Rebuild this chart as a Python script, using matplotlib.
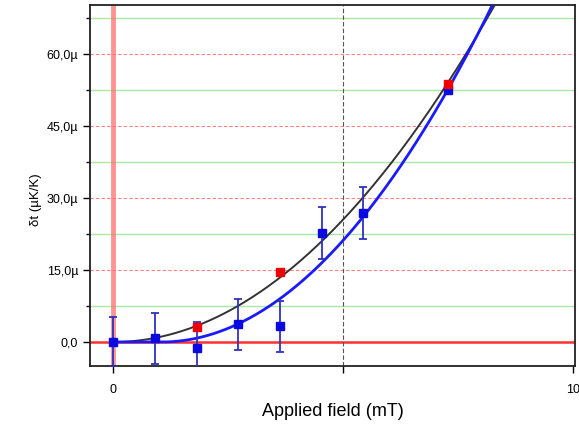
import numpy as np
import matplotlib
matplotlib.use("Agg")
import matplotlib.pyplot as plt

plt.rcParams['font.family'] = ['Liberation Sans', 'DejaVu Sans']

# measured points (field in mT, signal in uK/K)
blue_x = [0.0, 0.91, 1.83, 2.72, 3.63, 4.54, 5.43, 7.28]
blue_y = [0.0, 0.8, -1.2, 3.7, 3.3, 22.7, 26.9, 52.6]
blue_err = [5.3, 5.3, 5.3, 5.3, 5.3, 5.4, 5.5, 0.0]
blue_sigma = [5.3, 5.3, 5.3, 5.3, 5.3, 5.4, 5.5, 1.0]  # weights used in the fit

red_x = [0.0, 1.83, 3.63, 7.28]
red_y = [0.0, 3.1, 14.6, 53.8]

y_ticks = [0, 15, 30, 45, 60]
y_ticklabels = ["0,0", "15,0\u00b5", "30,0\u00b5", "45,0\u00b5", "60,0\u00b5"]
y_minor = [7.5, 22.5, 37.5, 52.5, 67.5]
x_ticks = [0, 5, 10]
x_ticklabels = ["0", "", "10"]

bx, by = np.array(blue_x), np.array(blue_y)
rx, ry = np.array(red_x), np.array(red_y)
w = 1.0 / np.array(blue_sigma)**2

# black fit: y = a*x^2 through the red points
a_red = np.sum(rx**2 * ry) / np.sum(rx**4)

# blue fit: y = a*(x - x0)^2 for x > x0, x0 found by a simple scan
best = None
for x0 in np.linspace(0, 3, 301):
    u = np.clip(bx - x0, 0, None) ** 2
    a = np.sum(w * u * by) / np.sum(w * u * u)
    res = np.sum(w * (a * u - by) ** 2)
    if best is None or res < best[0]:
        best = (res, a, x0)
_, a_blue, x0_blue = best

xs = np.linspace(0, 10, 400)

fig = plt.figure(figsize=(5.79, 4.30), dpi=100)
ax = fig.add_axes([0.1554, 0.1488, 0.8376, 0.8392])

for y in y_minor:
    ax.axhline(y, color='#a5eaa5', lw=1.0, zorder=1)
for y in y_ticks[1:]:
    ax.axhline(y, color='#ff8080', lw=0.8, ls=(0, (3, 2)), zorder=1)
ax.axhline(0, color='#ff3030', lw=1.8, zorder=2)
ax.axvline(0, color='#ff7070', lw=3.5, alpha=0.75, zorder=2)
ax.axvline(5, color='#555555', lw=0.8, ls=(0, (4, 2)), zorder=2)

ax.plot(xs, a_red * xs**2, color='#333333', lw=1.4, zorder=3)
ax.plot(xs, a_blue * np.clip(xs - x0_blue, 0, None)**2, color='#1a1aff', lw=2.0, zorder=3)

ax.errorbar(bx, by, yerr=blue_err, fmt='s', color='#0a0ae0', ecolor='#3030c0',
            ms=6, elinewidth=1.3, capsize=3, capthick=1.3, zorder=4)
ax.plot(rx[1:], ry[1:], 's', color='#ee0000', ms=6, zorder=5)

ax.set_xlim(-0.5, 10.04)
ax.set_ylim(-5, 70.2)
ax.set_xticks(x_ticks)
ax.set_xticklabels(x_ticklabels)
ax.set_yticks(y_ticks)
ax.set_yticklabels(y_ticklabels)
ax.set_yticks(y_minor, minor=True)
ax.tick_params(axis='both', direction='out', labelsize=9, length=5, width=1)
ax.tick_params(axis='y', which='minor', direction='out', length=3, width=1)
ax.tick_params(axis='x', pad=8)
for s in ax.spines.values():
    s.set_linewidth(1.3)
    s.set_color('#222222')

ax.set_xlabel("Applied field (mT)", fontsize=13, labelpad=5)
ax.set_ylabel("\u03b4t (\u00b5K/K)", fontsize=9.5, labelpad=3, y=0.46)

fig.savefig("out.png", dpi=100)
